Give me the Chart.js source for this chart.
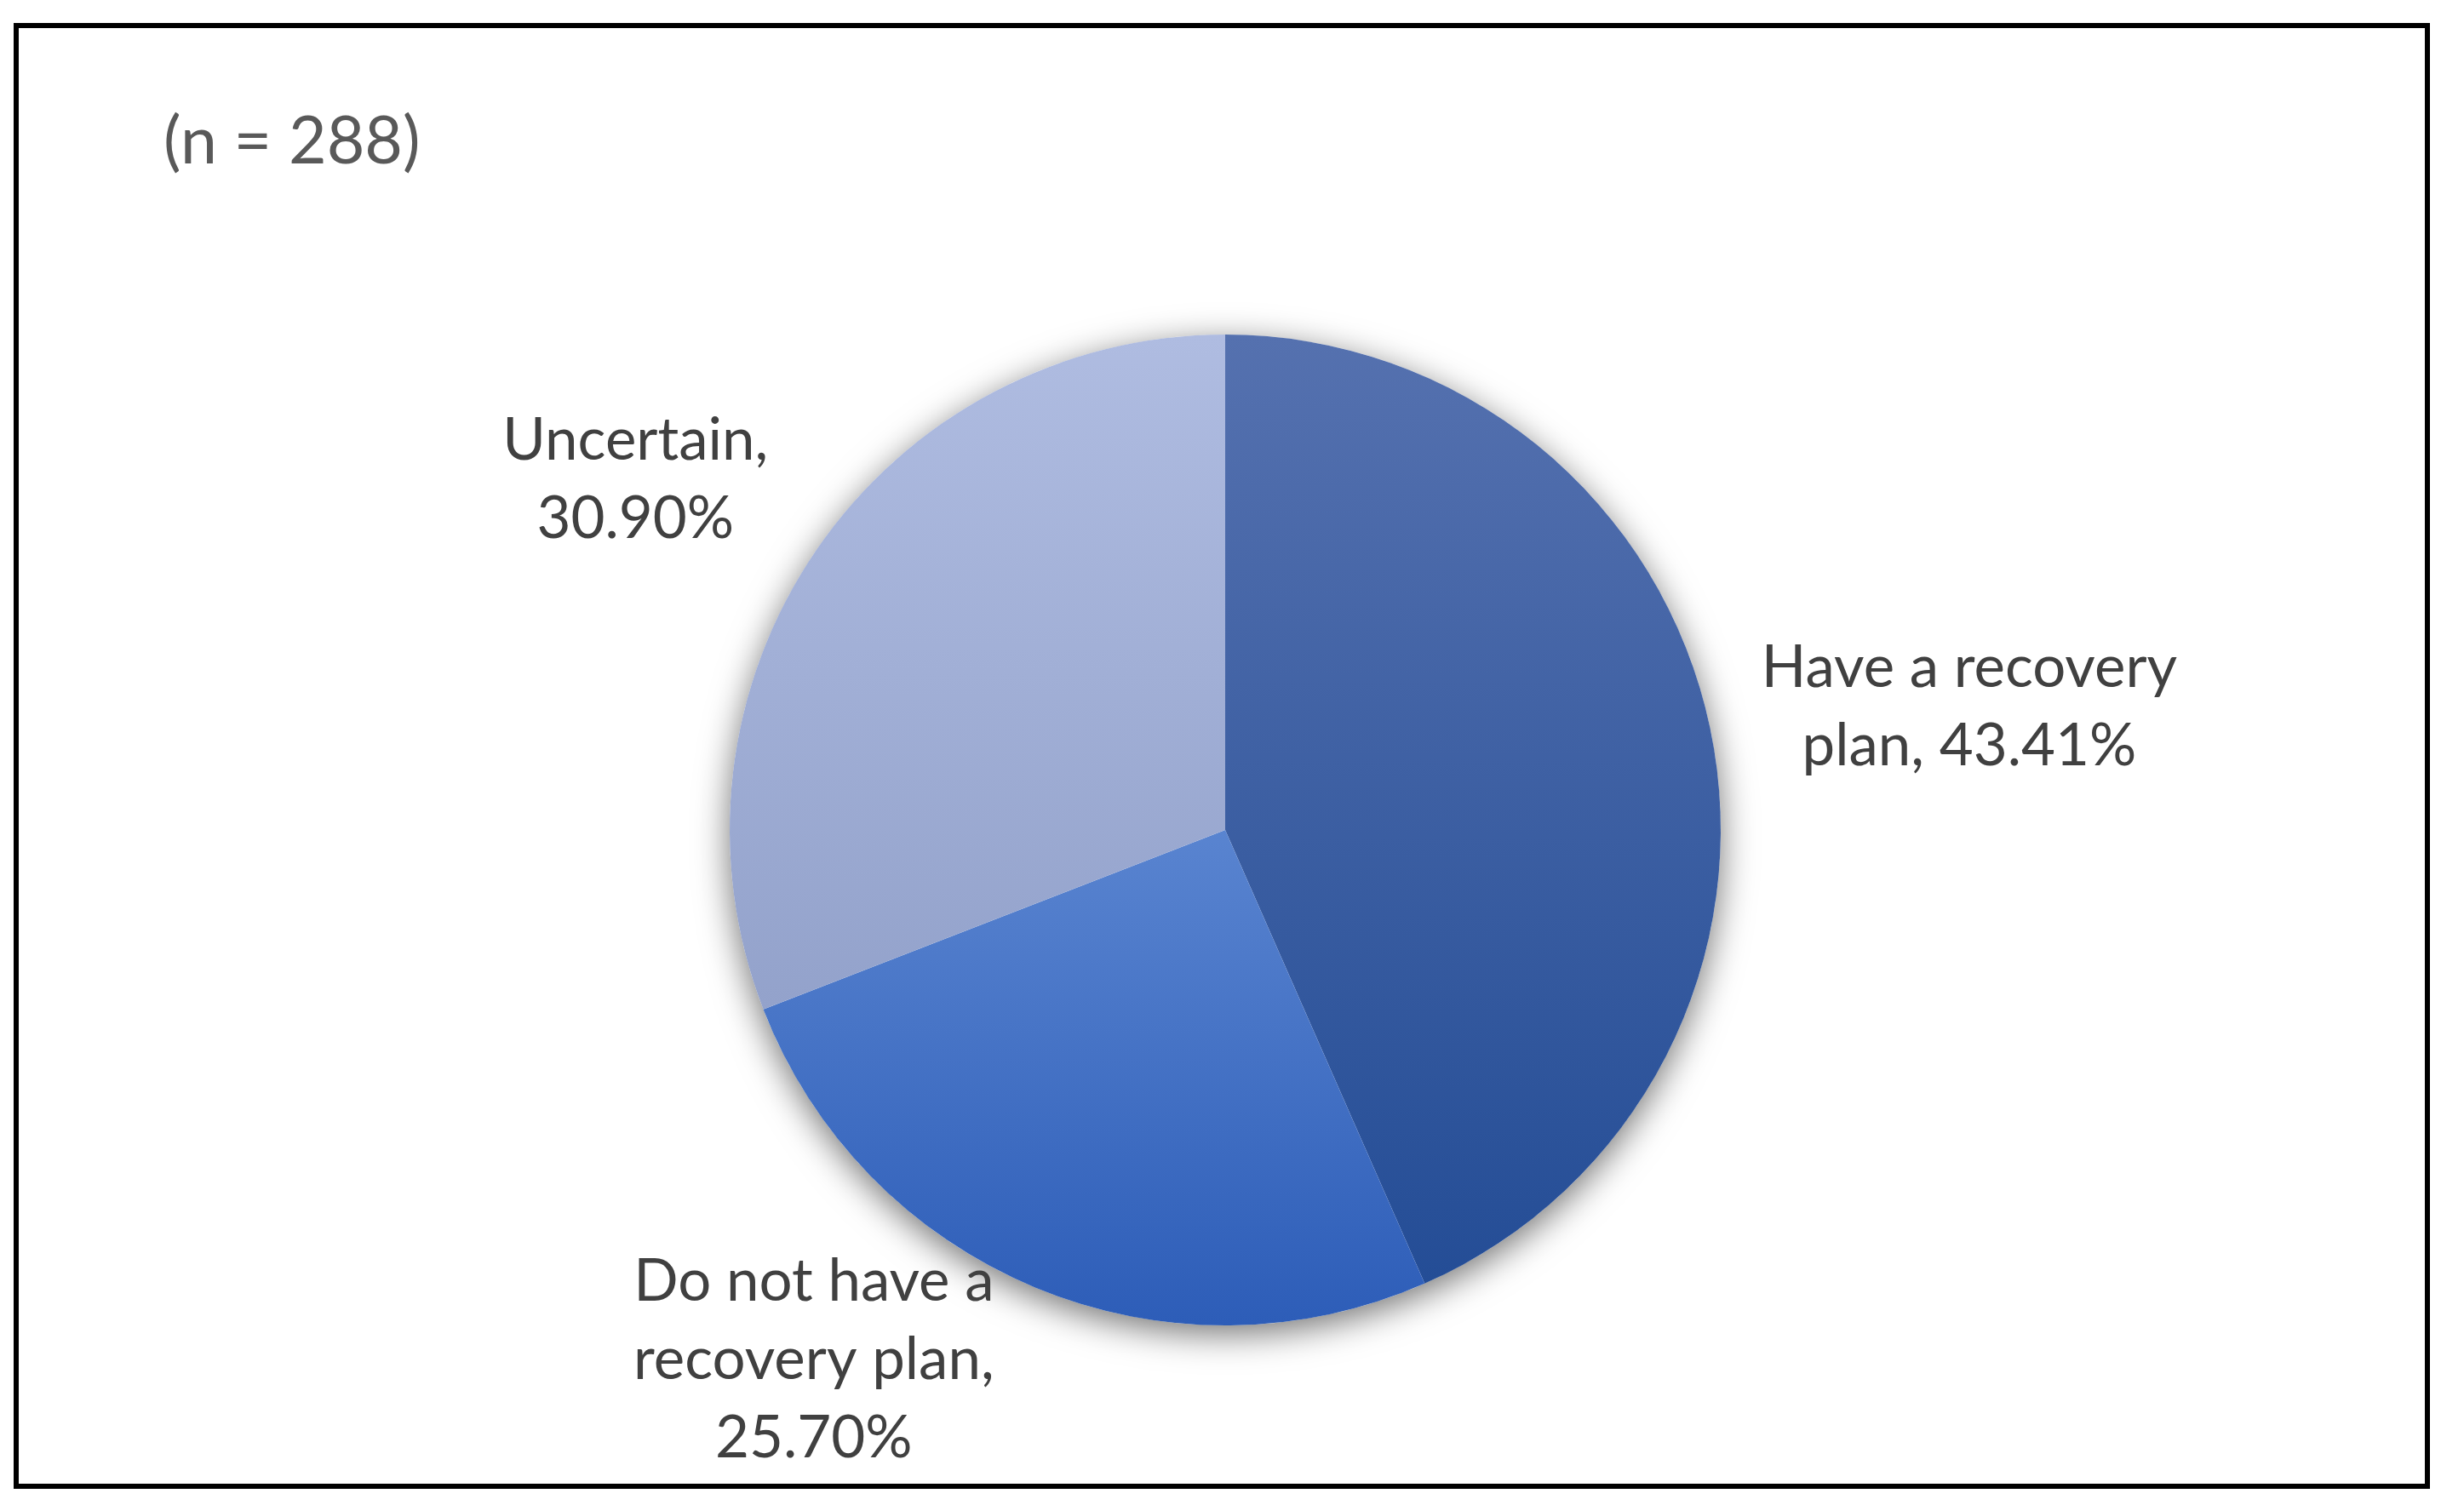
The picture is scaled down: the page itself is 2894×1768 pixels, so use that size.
<!DOCTYPE html>
<html>
<head>
<meta charset="utf-8">
<title>Recovery plan pie</title>
<script src="https://cdn.jsdelivr.net/npm/chart.js@4.4.1/dist/chart.umd.min.js"></script>
<style>
  html, body { margin: 0; padding: 0; background: #fff; }
  #wrap { width: 2894px; height: 1768px; position: relative; }
</style>
</head>
<body>
<div id="wrap"><canvas id="pieChart" width="2894" height="1768"></canvas></div>
<script>
// data
const categories = ['Have a recovery plan', 'Do not have a recovery plan', 'Uncertain'];
const shares = [43.41, 25.70, 30.90];
const sampleNote = '(n = 288)';

// slice fills: vertical gradient, light at top of each slice, dark at bottom
const topColors = ['#5571af', '#5984d0', '#afbce1'];
const bottomColors = ['#244d96', '#2d5db8', '#93a2cb'];

// label placement: angle shift (deg) from slice middle, distance in radii, wrap width
const labelShift = [2.5, 15.3, -3.7];
const labelDist = [1.522, 1.354, 1.384];
const labelWrap = [530, 470, 360];

const labelFont = '69px Lato';
const labelColor = '#404040';

const total = shares.reduce((a, b) => a + b, 0);

function sliceAngles(i) {
  let start = 0;
  for (let k = 0; k < i; k++) start += shares[k] / total * 360;
  return [start, start + shares[i] / total * 360];
}

function sliceYRange(cy, r, i) {
  const [a0, a1] = sliceAngles(i);
  const ys = [cy, cy - r * Math.cos(a0 * Math.PI / 180), cy - r * Math.cos(a1 * Math.PI / 180)];
  if (a0 <= 0 || a1 >= 360) ys.push(cy - r);
  if (a0 <= 180 && a1 >= 180) ys.push(cy + r);
  return [Math.min(...ys), Math.max(...ys)];
}

function sliceFill(ctx) {
  const chart = ctx.chart;
  const area = chart.chartArea;
  if (!area) return topColors[ctx.dataIndex];
  const cy = (area.top + area.bottom) / 2;
  const r = Math.min(area.right - area.left, area.bottom - area.top) / 2;
  const [y0, y1] = sliceYRange(cy, r, ctx.dataIndex);
  const g = chart.ctx.createLinearGradient(0, y0, 0, y1);
  g.addColorStop(0, topColors[ctx.dataIndex]);
  g.addColorStop(1, bottomColors[ctx.dataIndex]);
  return g;
}

function wrapText(ctx, text, maxWidth) {
  const words = text.split(' ');
  const lines = [];
  let line = '';
  words.forEach((w) => {
    const test = line ? line + ' ' + w : w;
    if (line && ctx.measureText(test).width > maxWidth) {
      lines.push(line);
      line = w;
    } else {
      line = test;
    }
  });
  if (line) lines.push(line);
  return lines;
}

const framePlugin = {
  id: 'frame',
  beforeDraw(chart) {
    const c = chart.ctx;
    c.save();
    c.fillStyle = '#ffffff';
    c.fillRect(0, 0, chart.width, chart.height);
    c.restore();
  },
  afterDraw(chart) {
    const c = chart.ctx;
    c.save();
    c.strokeStyle = '#000000';
    c.lineWidth = 6;
    c.strokeRect(19, 30, 2832, 1716);
    c.fillStyle = '#595959';
    c.font = '77px Lato';
    c.textBaseline = 'alphabetic';
    c.textAlign = 'left';
    c.fillText(sampleNote, 192, 192);
    c.restore();
  },
};

const shadowPlugin = {
  id: 'pieShadow',
  beforeDatasetsDraw(chart) {
    const arc = chart.getDatasetMeta(0).data[0];
    if (!arc) return;
    const c = chart.ctx;
    c.save();
    c.shadowColor = 'rgba(0,0,0,0.55)';
    c.shadowBlur = 40;
    c.shadowOffsetY = 10;
    c.fillStyle = '#ffffff';
    c.beginPath();
    c.arc(arc.x, arc.y, arc.outerRadius, 0, Math.PI * 2);
    c.fill();
    c.restore();
  },
};

const labelPlugin = {
  id: 'sliceLabels',
  afterDatasetsDraw(chart) {
    const meta = chart.getDatasetMeta(0);
    const c = chart.ctx;
    c.save();
    c.font = labelFont;
    c.fillStyle = labelColor;
    c.textAlign = 'center';
    c.textBaseline = 'middle';
    meta.data.forEach((arc, i) => {
      const [a0, a1] = sliceAngles(i);
      const mid = ((a0 + a1) / 2 + labelShift[i]) * Math.PI / 180;
      const d = arc.outerRadius * labelDist[i];
      const x = arc.x + d * Math.sin(mid);
      const y = arc.y - d * Math.cos(mid);
      const text = categories[i] + ', ' + shares[i].toFixed(2) + '%';
      const lines = wrapText(c, text, labelWrap[i]);
      const lh = 92;
      lines.forEach((ln, k) => {
        c.fillText(ln, x, y + (k - (lines.length - 1) / 2) * lh);
      });
    });
    c.restore();
  },
};

new Chart(document.getElementById('pieChart'), {
  type: 'pie',
  data: {
    labels: categories,
    datasets: [{
      data: shares,
      backgroundColor: sliceFill,
      borderWidth: 0,
      hoverOffset: 0,
    }],
  },
  options: {
    responsive: false,
    animation: false,
    layout: { padding: { left: 857, right: 873, top: 393, bottom: 211 } },
    plugins: {
      legend: { display: false },
      tooltip: { enabled: false },
      title: { display: false },
    },
  },
  plugins: [framePlugin, shadowPlugin, labelPlugin],
});
</script>
</body>
</html>
